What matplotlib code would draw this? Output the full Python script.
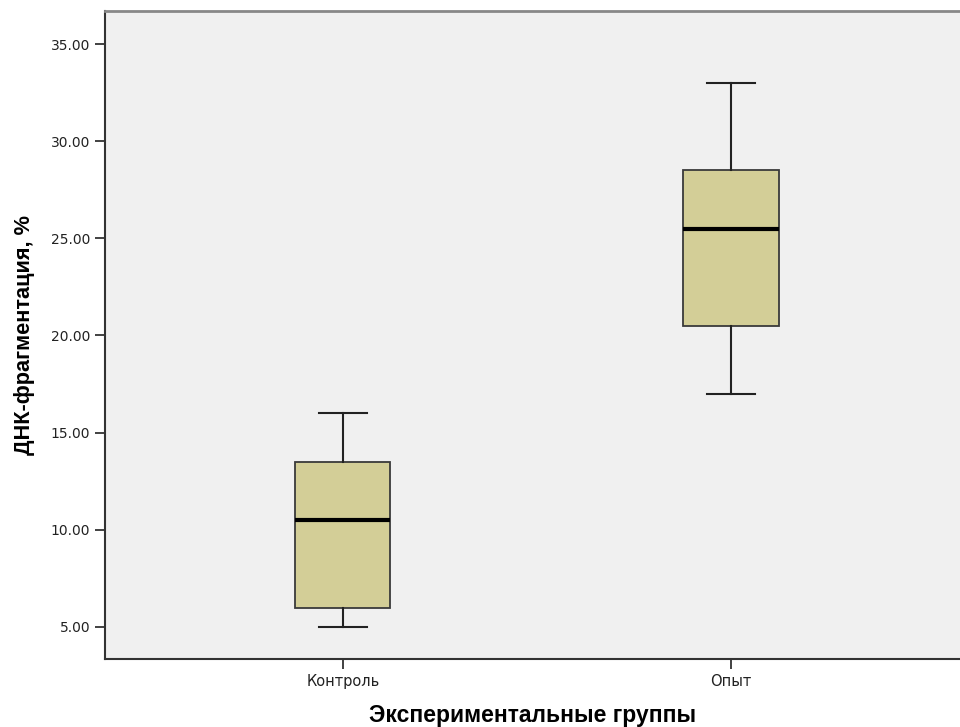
import matplotlib
matplotlib.use("Agg")
import matplotlib.pyplot as plt

groups = ["Контроль", "Опыт"]
whislo = [5.0, 17.0]
q1 = [6.0, 20.5]
med = [10.5, 25.5]
q3 = [13.5, 28.5]
whishi = [16.0, 33.0]
yticks = [5, 10, 15, 20, 25, 30, 35]

plt.rcParams['font.family'] = ['DejaVu Sans']

fig = plt.figure(figsize=(9.6, 7.27), dpi=100)
ax = fig.add_axes([105 / 960, 1 - 659 / 727, 1 - 105 / 960, (659 - 11) / 727])
ax.set_facecolor('#f0f0f0')

stats = []
for i in range(len(groups)):
    stats.append({'whislo': whislo[i], 'q1': q1[i], 'med': med[i], 'q3': q3[i],
                  'whishi': whishi[i], 'fliers': [], 'label': groups[i]})

ax.bxp(stats, positions=[0, 1], widths=0.245, patch_artist=True, showfliers=False,
       boxprops=dict(facecolor='#d3ce97', edgecolor='#3a3a3a', linewidth=1.3),
       medianprops=dict(color='black', linewidth=3),
       whiskerprops=dict(color='#222222', linewidth=1.5),
       capprops=dict(color='#222222', linewidth=1.5),
       capwidths=0.125)

ax.set_xlim(-0.613, 1.59)
ax.set_ylim(3.35, 36.7)
ax.set_yticks(yticks)
ax.set_yticklabels([f"{v:.2f}" for v in yticks], fontsize=10, color='#222222')
ax.set_xticks([0, 1])
ax.set_xticklabels(groups, fontsize=10.5, color='#222222', family='DejaVu Sans')
ax.tick_params(axis='both', direction='out', length=7, width=1.3, color='#333333')

for side in ['left', 'bottom']:
    ax.spines[side].set_color('#333333')
    ax.spines[side].set_linewidth(1.5)
ax.spines['top'].set_color('#888888')
ax.spines['top'].set_linewidth(2)
ax.spines['right'].set_visible(False)

ax.set_ylabel("ДНК-фрагментация, %", fontsize=15.7, fontweight='bold',
              family='Liberation Sans')
ax.yaxis.set_label_coords(-0.082, 0.5)
ax.set_xlabel("Экспериментальные группы", fontsize=16.5, fontweight='bold',
              family='Liberation Sans', labelpad=11)

fig.savefig("out.png", dpi=100)
